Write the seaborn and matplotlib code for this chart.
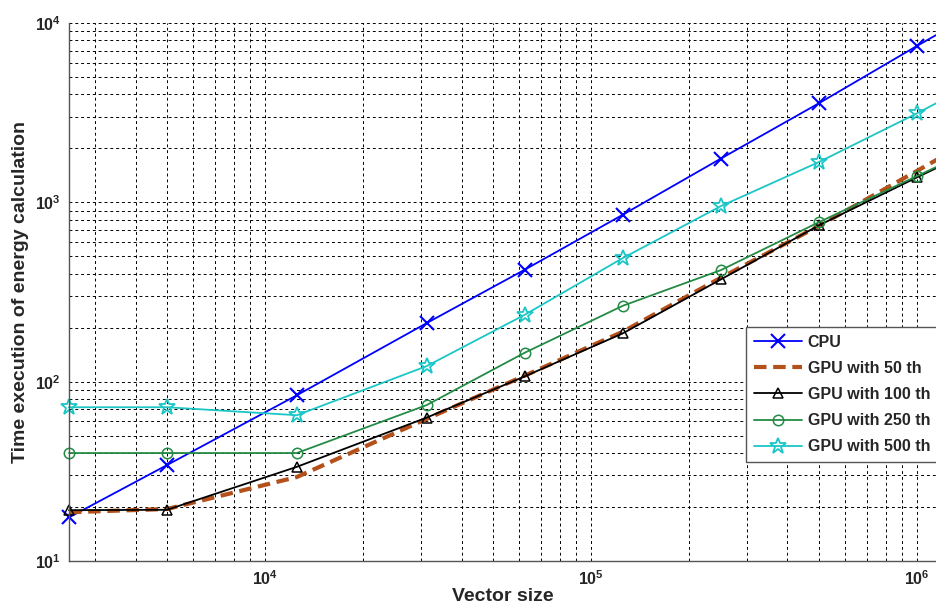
import numpy as np
import pandas as pd
import seaborn as sns
import matplotlib
matplotlib.use("Agg")
import matplotlib.pyplot as plt
from matplotlib.ticker import LogLocator

# vector sizes (last point only feeds the line running off the right edge)
vector_size = [2500, 5000, 12500, 31250, 62500, 125000, 250000, 500000, 1000000, 2000000]

cpu = [17.5, 34.3, 84, 212, 421, 853, 1755, 3573, 7465, 15250]
gpu_50 = [18.7, 19.5, 29.4, 62, 108, 190, 380, 740, 1500, 3050]
gpu_100 = [19.2, 19.3, 33.5, 63, 107, 186, 372, 745, 1380, 2520]
gpu_250 = [40, 40, 40, 74, 145, 265, 419, 776, 1403, 2540]
gpu_500 = [72, 72, 65, 122, 236, 489, 953, 1679, 3140, 6100]

labels = ["CPU", "GPU with 50 th", "GPU with 100 th", "GPU with 250 th", "GPU with 500 th"]
colors = ["#0000ff", "#b4501a", "black", "#238b45", "#1cc6c6"]

sns.set_style("white")
plt.rcParams["font.family"] = ["Liberation Sans", "DejaVu Sans"]
plt.rcParams["font.weight"] = "bold"

fig = plt.figure(figsize=(9.37, 6.13), dpi=100)
ax = fig.add_axes([69 / 937, 1 - 561 / 613, 1 - 69 / 937, (561 - 23) / 613])

# 线型设置
styles = [
    dict(marker="x", markersize=10, markeredgewidth=1.5, linewidth=1.3),
    dict(linestyle=(0, (3, 1.6)), linewidth=3.0),
    dict(marker="^", markersize=6.5, markerfacecolor="none", markeredgewidth=1.1, linewidth=1.3),
    dict(marker="o", markersize=7.5, markerfacecolor="none", markeredgewidth=1.1, linewidth=1.3),
    dict(marker="*", markersize=12, markerfacecolor="none", markeredgewidth=1.3, linewidth=1.3),
]
series = [cpu, gpu_50, gpu_100, gpu_250, gpu_500]

for vals, lab, col, st in zip(series, labels, colors, styles):
    df = pd.DataFrame({"size": vector_size, "time": vals})
    sns.lineplot(data=df, x="size", y="time", ax=ax, label=lab, color=col,
                 markeredgecolor=col, clip_on=False, **st)

ax.set_xscale("log")
ax.set_yscale("log")
ax.set_xlim(2500, 1.15e6)
ax.set_ylim(10, 1e4)

ax.xaxis.set_minor_locator(LogLocator(base=10, subs=np.arange(2, 10)))
ax.yaxis.set_minor_locator(LogLocator(base=10, subs=np.arange(2, 10)))
ax.grid(True, which="both", color="black", linestyle=(0, (3, 3)), linewidth=0.7)
ax.set_axisbelow(True)

for s in ["top", "right"]:
    ax.spines[s].set_visible(False)
for s in ["left", "bottom"]:
    ax.spines[s].set_color("#555555")
    ax.spines[s].set_linewidth(1.0)

ax.tick_params(which="both", direction="in", length=0, labelsize=11.5, pad=6)

ax.set_xlabel("Vector size", fontsize=14, fontweight="bold", labelpad=0)
ax.set_ylabel("Time execution of energy calculation", fontsize=14, fontweight="bold", labelpad=4)

leg = ax.legend(loc="upper left", bbox_to_anchor=(0.78, 0.4355), frameon=True,
                fancybox=False, framealpha=1, edgecolor="#555555", fontsize=11.5,
                handlelength=3.0, handletextpad=0.35, labelspacing=0.7,
                borderaxespad=0, borderpad=0.5)
leg.get_frame().set_linewidth(1.0)

fig.savefig("out.png", dpi=100)
